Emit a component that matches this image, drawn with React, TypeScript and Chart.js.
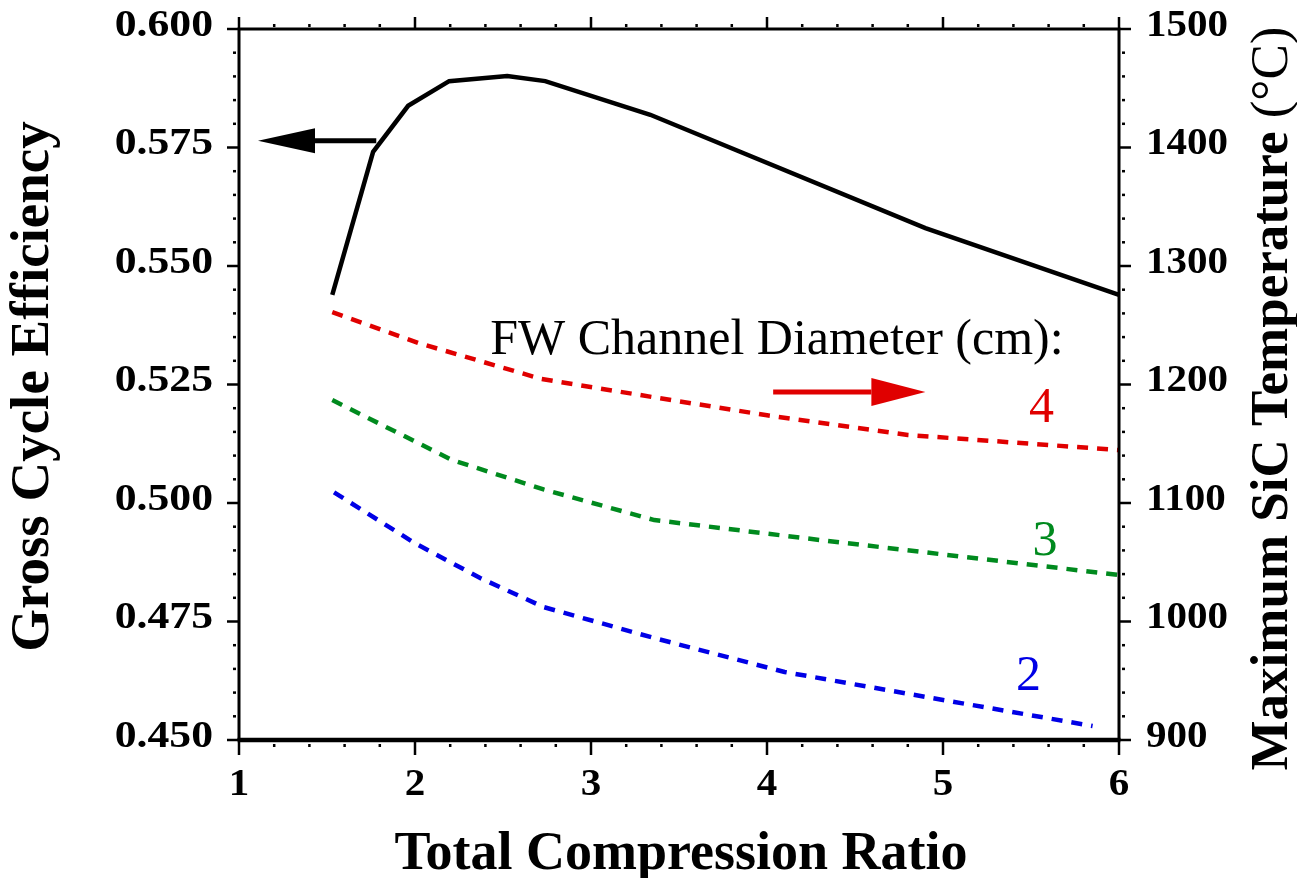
import React, { useEffect, useRef } from 'react';
import { Chart, registerables } from 'chart.js';

Chart.register(...registerables);

// ---- Data ----
const ratioEff = [1.53, 1.762, 1.961, 2.194, 2.524, 2.74, 3.337, 4.9, 6.0];
const efficiency = [0.5439, 0.5741, 0.5838, 0.589, 0.5901, 0.589, 0.5819, 0.558, 0.5439];

const ratioD4 = [1.53, 2.02, 2.72, 3.35, 4.0, 4.8, 6.0];
const tempD4 = [1261, 1235, 1204.6, 1189.4, 1174, 1157.4, 1144.7];

const ratioD3 = [1.53, 2.21, 2.73, 3.36, 4.3, 6.0];
const tempD3 = [1186.9, 1136.3, 1111.5, 1085.6, 1068.8, 1039.2];

const ratioD2 = [1.54, 2.0, 2.37, 2.73, 3.36, 4.1, 5.0, 5.85];
const tempD2 = [1109, 1066, 1036.7, 1012.2, 986, 957.4, 933.8, 911.8];

const xTicks = [1, 2, 3, 4, 5, 6];
const yTicks = [0.45, 0.475, 0.5, 0.525, 0.55, 0.575, 0.6];
const y2Ticks = [900, 1000, 1100, 1200, 1300, 1400, 1500];
const xMinorStep = 0.2;
const yMinorStep = 0.005;
const y2MinorStep = 20;

const xTitle = 'Total Compression Ratio';
const yTitle = 'Gross Cycle Efficiency';
const y2TitleMain = 'Maximum SiC Temperature ';
const y2TitleUnit = '(°C)';
const annotationText = 'FW Channel Diameter (cm):';
const diameterLabels = ['4', '3', '2'];

const RED = '#e00000';
const GREEN = '#008a1e';
const BLUE = '#0000e6';
const SERIF = '"Liberation Serif", "Times New Roman", serif';

const toPoints = (xs: number[], ys: number[]) => xs.map((x, i) => ({ x, y: ys[i] }));

const decorPlugin = {
  id: 'decor',
  afterDatasetsDraw(chart: any) {
    const ctx: CanvasRenderingContext2D = chart.ctx;
    const { left, right, top, bottom } = chart.chartArea;
    const xs = chart.scales.x;
    const ys = chart.scales.y;
    const y2 = chart.scales.y2;

    ctx.save();
    ctx.strokeStyle = '#000';
    ctx.fillStyle = '#000';
    ctx.lineCap = 'butt';

    // frame
    ctx.lineWidth = 3;
    ctx.beginPath();
    ctx.moveTo(left, bottom);
    ctx.lineTo(left, top);
    ctx.lineTo(right, top);
    ctx.lineTo(right, bottom);
    ctx.stroke();
    ctx.lineWidth = 4.5;
    ctx.beginPath();
    ctx.moveTo(left - 1.5, bottom);
    ctx.lineTo(right + 1.5, bottom);
    ctx.stroke();

    const line = (x1: number, y1: number, x2: number, y2_: number, w: number) => {
      ctx.lineWidth = w;
      ctx.beginPath();
      ctx.moveTo(x1, y1);
      ctx.lineTo(x2, y2_);
      ctx.stroke();
    };

    // x ticks (bottom and top)
    const xMin = xTicks[0];
    const xMax = xTicks[xTicks.length - 1];
    const nX = Math.round((xMax - xMin) / xMinorStep);
    for (let i = 0; i <= nX; i++) {
      const v = xMin + i * xMinorStep;
      const px = xs.getPixelForValue(v);
      const isMajor = xTicks.some((t) => Math.abs(t - v) < 1e-6);
      if (isMajor) {
        line(px, bottom + 2, px, bottom + 15, 2.5);
        line(px, top, px, top - 12, 2.5);
      } else {
        line(px, bottom + 4, px, bottom + 7, 2.5);
        line(px, top - 2, px, top - 5, 2.5);
      }
    }

    // left y ticks
    const yMin = yTicks[0];
    const yMax = yTicks[yTicks.length - 1];
    const nY = Math.round((yMax - yMin) / yMinorStep);
    for (let i = 0; i <= nY; i++) {
      const v = yMin + i * yMinorStep;
      const py = ys.getPixelForValue(v);
      const isMajor = yTicks.some((t) => Math.abs(t - v) < 1e-6);
      if (isMajor) line(left, py, left - 12, py, 2.5);
      else line(left - 3, py, left - 6, py, 2.5);
    }

    // right y2 ticks
    const tMin = y2Ticks[0];
    const tMax = y2Ticks[y2Ticks.length - 1];
    const nT = Math.round((tMax - tMin) / y2MinorStep);
    for (let i = 0; i <= nT; i++) {
      const v = tMin + i * y2MinorStep;
      const py = y2.getPixelForValue(v);
      const isMajor = y2Ticks.some((t) => Math.abs(t - v) < 1e-6);
      if (isMajor) line(right, py, right + 12, py, 2.5);
      else line(right + 3, py, right + 6, py, 2.5);
    }

    // stretched text helper
    const text = (s: string, x: number, y: number, align: CanvasTextAlign, base: CanvasTextBaseline, sx: number) => {
      ctx.save();
      ctx.translate(x, y);
      ctx.scale(sx, 1);
      ctx.textAlign = align;
      ctx.textBaseline = base;
      ctx.fillText(s, 0, 0);
      ctx.restore();
    };

    // tick labels
    ctx.font = `bold 38px ${SERIF}`;
    ctx.fillStyle = '#000';
    xTicks.forEach((t) => text(String(t), xs.getPixelForValue(t), bottom + 45, 'center', 'middle', 1.08));
    yTicks.forEach((t) => text(t.toFixed(3), left - 26, ys.getPixelForValue(t) - 3, 'right', 'middle', 1.15));
    y2Ticks.forEach((t) => text(String(t), right + 27, y2.getPixelForValue(t) - 3, 'left', 'middle', 1.08));

    // axis titles
    ctx.font = `bold 54px ${SERIF}`;
    ctx.textAlign = 'center';
    ctx.textBaseline = 'alphabetic';
    ctx.fillText(xTitle, (left + right) / 2 + 2, bottom + 129);

    ctx.save();
    ctx.font = `bold 55px ${SERIF}`;
    ctx.translate(left - 191, (top + bottom) / 2 + 2);
    ctx.rotate(-Math.PI / 2);
    ctx.fillText(yTitle, 0, 0);
    ctx.restore();

    ctx.save();
    ctx.translate(right + 168, (top + bottom) / 2 + 14);
    ctx.rotate(-Math.PI / 2);
    ctx.font = `bold 53px ${SERIF}`;
    const w1 = ctx.measureText(y2TitleMain).width;
    ctx.font = `53px ${SERIF}`;
    const w2 = ctx.measureText(y2TitleUnit).width;
    const start = -(w1 + w2) / 2;
    ctx.textAlign = 'left';
    ctx.font = `bold 53px ${SERIF}`;
    ctx.fillText(y2TitleMain, start, 0);
    ctx.font = `53px ${SERIF}`;
    ctx.fillText(y2TitleUnit, start + w1, 0);
    ctx.restore();

    // arrows (positioned in data coordinates)
    const arrow = (tail: number[], tip: number[], scaleY: any, color: string, headLen: number, headHalf: number, w: number) => {
      const x1 = xs.getPixelForValue(tail[0]);
      const x2 = xs.getPixelForValue(tip[0]);
      const yy = scaleY.getPixelForValue(tail[1]);
      const dir = Math.sign(x2 - x1);
      const baseX = x2 - dir * headLen;
      ctx.strokeStyle = color;
      ctx.fillStyle = color;
      line(x1, yy, baseX, yy, w);
      ctx.beginPath();
      ctx.moveTo(x2, yy);
      ctx.lineTo(baseX, yy - headHalf);
      ctx.lineTo(baseX, yy + headHalf);
      ctx.closePath();
      ctx.fill();
    };
    arrow([1.78, 0.5764], [1.108, 0.5764], ys, '#000', 57, 12.5, 5);
    arrow([4.035, 1193.7], [4.9, 1193.7], y2, RED, 54, 14, 5);

    // text annotations
    ctx.fillStyle = '#000';
    ctx.font = `50px ${SERIF}`;
    ctx.textAlign = 'left';
    ctx.textBaseline = 'alphabetic';
    ctx.fillText(annotationText, xs.getPixelForValue(2.427), y2.getPixelForValue(1225.7));

    ctx.textAlign = 'center';
    ctx.fillStyle = RED;
    ctx.fillText(diameterLabels[0], xs.getPixelForValue(5.56), y2.getPixelForValue(1168.3));
    ctx.fillStyle = GREEN;
    ctx.fillText(diameterLabels[1], xs.getPixelForValue(5.58), y2.getPixelForValue(1056));
    ctx.fillStyle = BLUE;
    ctx.fillText(diameterLabels[2], xs.getPixelForValue(5.486), y2.getPixelForValue(942));

    ctx.restore();
  },
};

export default function App() {
  const canvasRef = useRef<HTMLCanvasElement | null>(null);

  useEffect(() => {
    if (!canvasRef.current) return;
    const dashed = (color: string) => ({
      borderColor: color,
      borderWidth: 4.5,
      borderDash: [11, 9],
      pointRadius: 0,
      fill: false,
      tension: 0,
      yAxisID: 'y2',
      borderCapStyle: 'butt' as const,
    });
    const chart = new Chart(canvasRef.current, {
      type: 'line',
      data: {
        datasets: [
          {
            label: 'Gross Cycle Efficiency',
            data: toPoints(ratioEff, efficiency),
            borderColor: '#000',
            borderWidth: 4.5,
            pointRadius: 0,
            fill: false,
            tension: 0,
            yAxisID: 'y',
          },
          { label: '4 cm', data: toPoints(ratioD4, tempD4), ...dashed(RED) },
          { label: '3 cm', data: toPoints(ratioD3, tempD3), ...dashed(GREEN) },
          { label: '2 cm', data: toPoints(ratioD2, tempD2), ...dashed(BLUE) },
        ],
      },
      options: {
        responsive: false,
        animation: false,
        layout: { padding: { left: 239, right: 178, top: 29, bottom: 138 } },
        plugins: { legend: { display: false }, tooltip: { enabled: false } },
        scales: {
          x: { type: 'linear', min: xTicks[0], max: xTicks[xTicks.length - 1], display: false },
          y: { type: 'linear', min: yTicks[0], max: yTicks[yTicks.length - 1], display: false },
          y2: { type: 'linear', position: 'right', min: y2Ticks[0], max: y2Ticks[y2Ticks.length - 1], display: false },
        },
      },
      plugins: [decorPlugin],
    });
    return () => chart.destroy();
  }, []);

  return (
    <div style={{ position: 'absolute', left: 0, top: 0, width: 1297, height: 878, background: '#fff' }}>
      <canvas ref={canvasRef} width={1297} height={878} style={{ display: 'block' }} />
    </div>
  );
}
